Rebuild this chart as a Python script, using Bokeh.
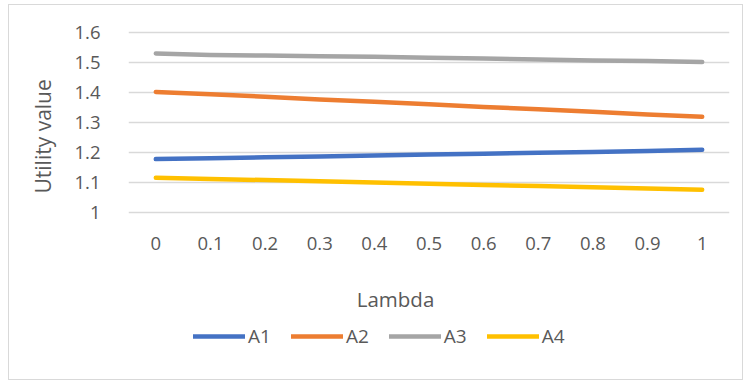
from bokeh.plotting import figure
from bokeh.models import (FactorRange, Range1d, FixedTicker, Legend, LegendItem, Title, Label)
from bokeh.embed import file_html
from bokeh.resources import INLINE

# Lambda values (category axis) and utility values per alternative
lambdas = ["0", "0.1", "0.2", "0.3", "0.4", "0.5", "0.6", "0.7", "0.8", "0.9", "1"]
a1 = [1.178, 1.181, 1.184, 1.187, 1.190, 1.193, 1.196, 1.199, 1.202, 1.205, 1.209]
a2 = [1.402, 1.394, 1.386, 1.377, 1.369, 1.361, 1.352, 1.344, 1.336, 1.327, 1.319]
a3 = [1.530, 1.525, 1.523, 1.521, 1.519, 1.516, 1.513, 1.510, 1.507, 1.505, 1.502]
a4 = [1.116, 1.112, 1.108, 1.104, 1.100, 1.096, 1.092, 1.088, 1.084, 1.080, 1.076]
y_ticks = [1, 1.1, 1.2, 1.3, 1.4, 1.5, 1.6]
y_tick_labels = ["1", "1.1", "1.2", "1.3", "1.4", "1.5", "1.6"]

series = [("A1", a1, "#4472C4"), ("A2", a2, "#ED7D31"),
          ("A3", a3, "#A5A5A5"), ("A4", a4, "#FFC000")]

FONT = "Open Sans"
TEXT = "#595959"

# 300 px per unit; frame runs from just above 1.6 down through the legend area
PX_PER_UNIT = 300
TOP = 1.6 + 2 / PX_PER_UNIT
FRAME_H = 321
p = figure(width=735, height=376, output_backend="svg", toolbar_location=None,
           x_range=FactorRange(*lambdas),
           y_range=Range1d(TOP - FRAME_H / PX_PER_UNIT, TOP),
           min_border_left=119, min_border_right=15,
           min_border_top=25, min_border_bottom=376 - 25 - FRAME_H)
p.styles = {"border": "1px solid #d9d9d9", "margin-left": "8px", "margin-top": "4px"}
p.outline_line_color = None
p.background_fill_color = "white"
p.border_fill_color = "white"

# axes
p.yaxis.ticker = FixedTicker(ticks=y_ticks)
p.yaxis.major_label_overrides = {t: s for t, s in zip(y_ticks, y_tick_labels)}
for ax in (p.xaxis[0], p.yaxis[0]):
    ax.axis_line_color = None
    ax.major_tick_line_color = None
    ax.minor_tick_line_color = None
    ax.major_label_text_font = FONT
    ax.major_label_text_font_size = "18.5px"
    ax.major_label_text_color = TEXT
p.yaxis.major_label_standoff = 22
p.xaxis.major_label_standoff = 2
p.xaxis.fixed_location = 0.945

p.xgrid.grid_line_color = None
p.ygrid.grid_line_color = "#d9d9d9"
p.ygrid.grid_line_width = 1.3

renderers = []
for name, vals, color in series:
    r = p.line(x=lambdas, y=vals, line_color=color, line_width=4.5, line_cap="round",
               line_join="round")
    renderers.append((name, r))

# axis titles
y_title = Title(text="Utility value", align="left", offset=158, standoff=30,
                text_font=FONT, text_font_size="21px", text_font_style="normal",
                text_color=TEXT)
p.add_layout(y_title, "left")
p.add_layout(Label(x=267, y=53, x_units="screen", y_units="screen", text="Lambda",
                   text_font=FONT, text_font_size="20.5px", text_color=TEXT,
                   text_align="center", text_baseline="alphabetic"))

legend = Legend(items=[LegendItem(label=n, renderers=[r]) for n, r in renderers],
                orientation="horizontal", location=(65, 2),
                glyph_width=52, glyph_height=20, label_height=20,
                label_standoff=3, spacing=20, padding=0, margin=0,
                border_line_color=None, background_fill_alpha=0,
                label_text_font=FONT, label_text_font_size="19px",
                label_text_color=TEXT)
p.add_layout(legend)

open("out.html", "w").write(file_html(p, INLINE))
